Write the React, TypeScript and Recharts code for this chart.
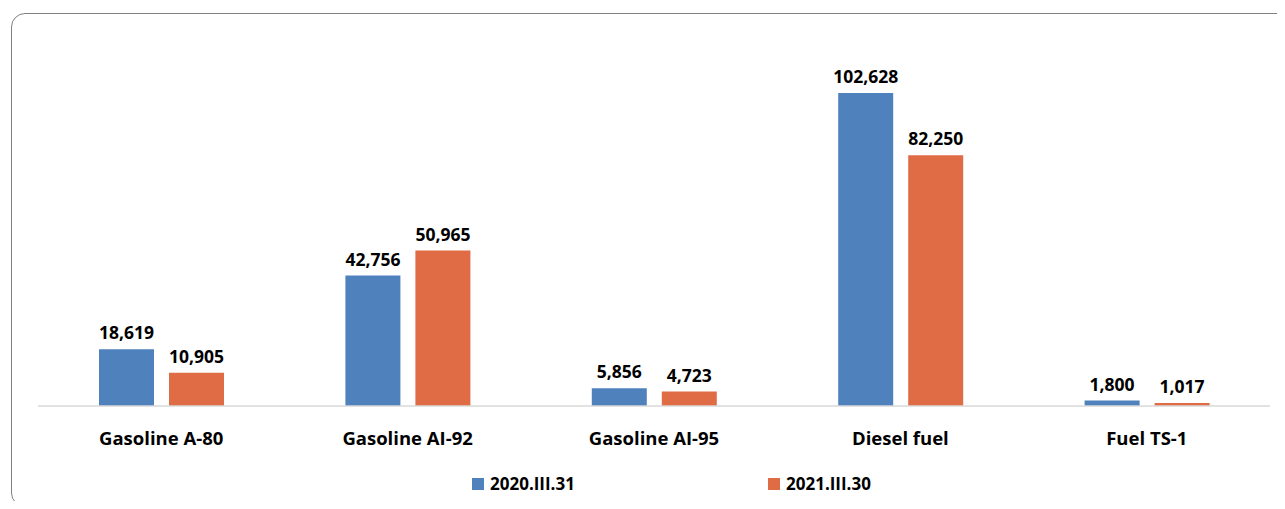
import { BarChart, Bar, XAxis, YAxis, LabelList, Legend } from 'recharts';

const categories = ['Gasoline A-80', 'Gasoline AI-92', 'Gasoline AI-95', 'Diesel fuel', 'Fuel TS-1'];
const values2020 = [18619, 42756, 5856, 102628, 1800];
const values2021 = [10905, 50965, 4723, 82250, 1017];
const seriesNames = ['2020.III.31', '2021.III.30'];

const data = categories.map((name, i) => ({
    name,
    a: values2020[i],
    b: values2021[i],
}));

const fmt = (v: number) => v.toLocaleString('en-US');
const font = '"Open Sans", Lato, sans-serif';

function LegendContent() {
    const items = [
        { label: seriesNames[0], color: '#4f81bd', left: 472 },
        { label: seriesNames[1], color: '#e06c45', left: 768 },
    ];
    return (
        <div style={{ position: 'relative', height: 24 }}>
            {items.map((it) => (
                <div key={it.label} style={{ position: 'absolute', left: it.left, top: 0, display: 'flex', alignItems: 'center' }}>
                    <span style={{ width: 12, height: 12, background: it.color, display: 'inline-block', marginRight: 6 }} />
                    <span style={{ fontFamily: font, fontWeight: 700, fontSize: 17, color: '#000' }}>{it.label}</span>
                </div>
            ))}
        </div>
    );
}

export default function App() {
    return (
        <div style={{ position: 'relative', width: 1285, height: 509, background: '#fff', overflow: 'hidden', margin: -8 }}>
            <div
                style={{
                    position: 'absolute',
                    left: 11,
                    top: 13,
                    width: 1290,
                    height: 494,
                    border: '1.5px solid #808080',
                    borderRadius: 14,
                    boxSizing: 'border-box',
                }}
            />
            <div style={{ position: 'absolute', left: 0, top: 0 }}>
                <BarChart
                    width={1285}
                    height={509}
                    data={data}
                    margin={{ top: 40, right: 15, left: 38, bottom: 39 }}
                    barCategoryGap={61}
                    barGap={15}
                >
                    <XAxis
                        dataKey="name"
                        height={40}
                        tickLine={false}
                        axisLine={{ stroke: '#d9d9d9', strokeWidth: 1.5 }}
                        tickMargin={20}
                        tick={{ fill: '#000', fontFamily: font, fontWeight: 700, fontSize: 18.5 }}
                        interval={0}
                    />
                    <YAxis hide domain={[0, 120000]} />
                    <Legend
                        content={<LegendContent />}
                        wrapperStyle={{ position: 'absolute', left: 0, top: 472, width: 1285 }}
                    />
                    <Bar dataKey="a" name={seriesNames[0]} fill="#4f81bd" barSize={55} isAnimationActive={false}>
                        <LabelList
                            dataKey="a"
                            position="top"
                            offset={10}
                            formatter={(v: number) => fmt(v)}
                            style={{ fill: '#000', fontFamily: font, fontWeight: 700, fontSize: 17.5 }}
                        />
                    </Bar>
                    <Bar dataKey="b" name={seriesNames[1]} fill="#e06c45" barSize={55} isAnimationActive={false}>
                        <LabelList
                            dataKey="b"
                            position="top"
                            offset={10}
                            formatter={(v: number) => fmt(v)}
                            style={{ fill: '#000', fontFamily: font, fontWeight: 700, fontSize: 17.5 }}
                        />
                    </Bar>
                </BarChart>
            </div>
        </div>
    );
}
